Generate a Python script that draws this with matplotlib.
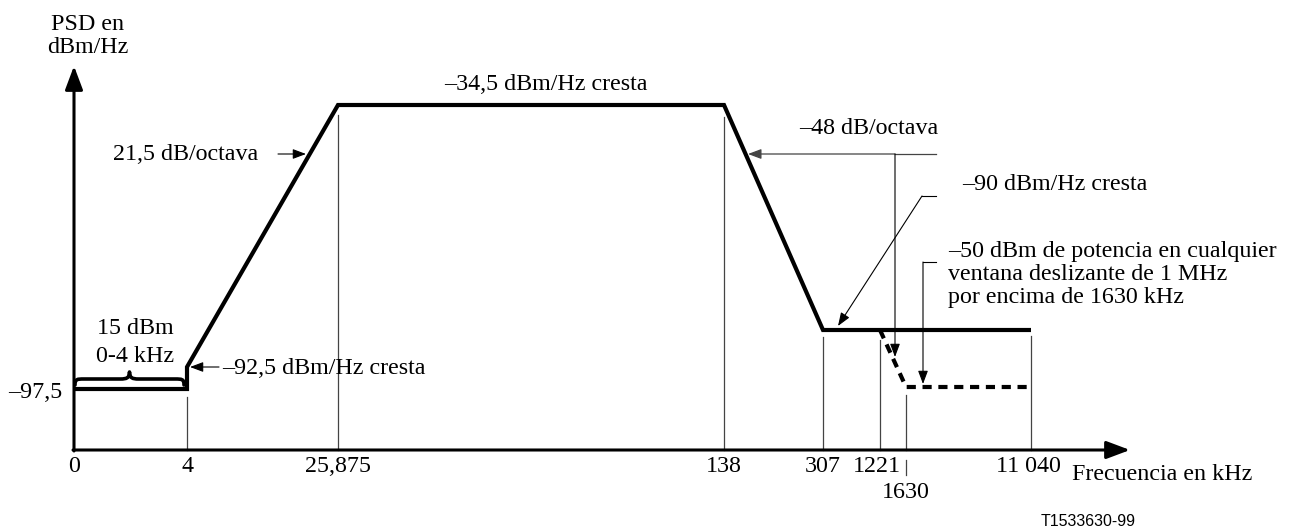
import matplotlib
matplotlib.use('Agg')
import matplotlib.pyplot as plt
from matplotlib.path import Path
from matplotlib.patches import PathPatch

# frequencies (kHz) and their labels on the schematic x axis
freq_khz = [0, 4, 25.875, 138, 307, 1221, 1630, 11040]
freq_labels = ['0', '4', '25,875', '138', '307', '1221', '1630', '11 040']

# PSD levels in dBm/Hz
psd_floor = -97.5
psd_step = -92.5
psd_peak = -34.5
psd_stop = -90.0
psd_window = 'window'   # dashed level, -50 dBm in any 1 MHz window

# mask corners (kHz, level)
mask_f = [0, 4, 4, 25.875, 138, 307, 11040]
mask_l = [psd_floor, psd_floor, psd_step, psd_peak, psd_peak, psd_stop, psd_stop]
dash_f = [1221, 1630, 11040]
dash_l = [psd_stop, psd_window, psd_window]

# schematic placement (the axes are not to scale)
x_of = dict(zip(freq_khz, [74, 187, 338, 724, 823, 880, 906, 1031]))
y_of = {psd_floor: 389, psd_step: 367, psd_peak: 105, psd_stop: 330, psd_window: 387}

SERIF = ['Liberation Serif', 'DejaVu Serif']
FS = 17.3

fig = plt.figure(figsize=(12.92, 5.30), dpi=100)
ax = fig.add_axes([0, 0, 1, 1])
ax.set_xlim(0, 1292)
ax.set_ylim(530, 0)
ax.axis('off')

x0, y0 = 74, 450

# axes with arrow heads
arr = dict(arrowstyle='-|>,head_length=1.2,head_width=0.45', lw=2.2, color='k',
           shrinkA=0, shrinkB=0, mutation_scale=12)
ax.annotate('', xy=(x0, 66), xytext=(x0, y0 + 1), arrowprops=arr)
ax.annotate('', xy=(1130, y0), xytext=(x0 - 1, y0), arrowprops=arr)

# mask
ax.plot([x_of[f] for f in mask_f], [y_of[l] for l in mask_l], color='k', lw=3.0,
        solid_joinstyle='miter', solid_capstyle='butt')
ax.plot([x_of[f] for f in dash_f], [y_of[l] for l in dash_l], color='k', lw=3.0,
        ls=(0, (2.2, 1.6)), dash_capstyle='butt')

# thin drop lines
drop_top = {4: 397, 25.875: 115, 138: 117, 307: 337, 1221: 340, 1630: 395, 11040: 336}
for f, top in drop_top.items():
    ax.plot([x_of[f], x_of[f]], [top, y0], color='#444444', lw=0.9)
ax.plot([x_of[1630], x_of[1630]], [460, 475], color='#444444', lw=0.9)

# tick labels
for f, lab in zip(freq_khz, freq_labels):
    if f == 1630:
        ax.text(x_of[f], 492, lab, ha='center', va='center', family=SERIF, fontsize=FS)
    elif f in (1221, 11040):
        ax.text(x_of[f] - 3, 466, lab, ha='center', va='center', family=SERIF, fontsize=FS)
    else:
        ax.text(x_of[f], 466, lab, ha='center', va='center', family=SERIF, fontsize=FS)
ax.text(62, y_of[psd_floor] + 4, '\u201397,5', ha='right', va='center', family=SERIF, fontsize=FS)
ax.text(1072, 475, 'Frecuencia en kHz', ha='left', va='center', family=SERIF, fontsize=FS)
ax.text(88, 36, 'PSD en\ndBm/Hz', ha='center', va='center', family=SERIF, fontsize=FS,
        linespacing=1.1)
ax.text(1088, 522, 'T1533630-99', ha='center', va='center', family='Liberation Sans', fontsize=11.5)

# curly brace over 0-4 kHz
bx0, bx1 = x0 + 1, x_of[4] - 3
bm = (bx0 + bx1) / 2
yb, yl, yt = 385, 379, 372
M, C, L = Path.MOVETO, Path.CURVE4, Path.LINETO
verts = [(bx0, yb),
         (bx0, yl), (bx0 + 2, yl), (bx0 + 9, yl),
         (bm - 9, yl),
         (bm - 3, yl), (bm, yl - 1), (bm, yt),
         (bm, yl - 1), (bm + 3, yl), (bm + 9, yl),
         (bx1 - 9, yl),
         (bx1 - 2, yl), (bx1, yl), (bx1, yb)]
codes = [M, C, C, C, L, C, C, C, C, C, C, L, C, C, C]
ax.add_patch(PathPatch(Path(verts, codes), fill=False, lw=2.6, color='k',
                       capstyle='round', joinstyle='round'))
ax.text(135, 329, '15 dBm', ha='center', va='center', family=SERIF, fontsize=FS)
ax.text(135, 357, '0-4 kHz', ha='center', va='center', family=SERIF, fontsize=FS)

# annotations
thin = dict(arrowstyle='-|>,head_length=0.8,head_width=0.3', lw=0.8, color='k',
            shrinkA=0, shrinkB=0, mutation_scale=10)
ax.annotate('', xy=(306, 154), xytext=(278, 154), arrowprops=thin)
ax.text(258, 155, '21,5 dB/octava', ha='right', va='center', family=SERIF, fontsize=FS)

ax.annotate('', xy=(190, y_of[psd_step]), xytext=(219, y_of[psd_step]), arrowprops=thin)
ax.text(222, 368, '\u201392,5 dBm/Hz cresta', ha='left', va='center', family=SERIF, fontsize=FS)

ax.text(546, 85, '\u201334,5 dBm/Hz cresta', ha='center', va='center', family=SERIF, fontsize=FS)

ax.text(869, 128, '\u201348 dB/octava', ha='center', va='center', family=SERIF, fontsize=FS)
ax.plot([895, 936], [154, 154], color='#444444', lw=0.9)
ax.annotate('', xy=(748, 154), xytext=(895, 154),
            arrowprops=dict(thin, color='#444444', lw=0.9))
ax.annotate('', xy=(895, 357), xytext=(895, 154), arrowprops=thin)

ax.plot([922, 936], [196, 196], color='k', lw=0.8)
ax.annotate('', xy=(838, 326), xytext=(922, 196), arrowprops=thin)
ax.text(962, 185, '\u201390 dBm/Hz cresta', ha='left', va='center', family=SERIF, fontsize=FS)

ax.plot([923, 936], [262, 262], color='k', lw=0.8)
ax.annotate('', xy=(923, 384), xytext=(923, 262), arrowprops=thin)
ax.text(948, 252, '\u201350 dBm de potencia en cualquier', ha='left', va='center',
        family=SERIF, fontsize=FS)
ax.text(948, 275, 'ventana deslizante de 1 MHz', ha='left', va='center', family=SERIF, fontsize=FS)
ax.text(948, 298, 'por encima de 1630 kHz', ha='left', va='center', family=SERIF, fontsize=FS)

fig.savefig('out.png', dpi=100)
